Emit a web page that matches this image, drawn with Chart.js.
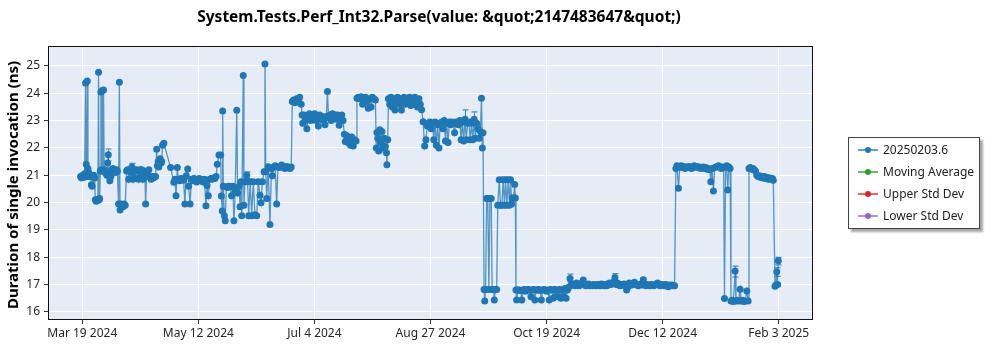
<!DOCTYPE html>
<html>
<head>
<meta charset="utf-8">
<script src="https://cdn.jsdelivr.net/npm/chart.js@4.4.1/dist/chart.umd.min.js"></script>
<style>
  html, body { margin: 0; padding: 0; background: #fff; }
  #wrap { position: relative; width: 1000px; height: 350px; }
  #legend {
    position: absolute; left: 848px; top: 137px; width: 130px; height: 90px;
    border: 1px solid #444; background: #fff;
    box-shadow: 3px 3px 2px rgba(0, 0, 0, 0.35);
    font: 12px "Noto Sans", sans-serif; color: #222;
  }
  .item { position: absolute; left: 0; height: 22px; line-height: 22px; white-space: nowrap; }
  .item .swatch { position: absolute; left: 9px; top: 10px; width: 20px; height: 2px; }
  .item .dot { position: absolute; left: 16px; top: 8px; width: 6px; height: 6px; border-radius: 50%; }
  .item .txt { position: absolute; left: 34px; top: 0; }
</style>
</head>
<body>
<div id="wrap">
  <canvas id="chart" width="1000" height="350"></canvas>
  <div id="legend"></div>
</div>
<script>
// run day = days since Mar 19 2024, duration in ns
const runDay = [
  -0.8, -0.3, 0.2, 0.6, 1.1, 1.5, 1.8, 2.1, 2.3, 2.6,
  3.0, 3.4, 3.8, 4.2, 4.5, 4.9, 5.3, 5.7, 6.0, 6.4,
  6.8, 7.2, 7.5, 7.8, 8.0, 8.3, 8.6, 8.9, 9.2, 9.5,
  9.8, 10.1, 10.5, 10.9, 11.3, 11.7, 12.0, 12.4, 12.7, 13.2,
  13.7, 14.2, 14.7, 15.2, 15.7, 16.2, 16.7, 17.1, 17.4, 17.8,
  18.3, 18.8, 19.3, 19.8, 20.4, 20.9, 21.4, 21.9, 22.4, 22.9,
  23.4, 23.9, 24.4, 24.9, 25.4, 25.9, 26.4, 26.9, 27.4, 27.9,
  28.4, 28.9, 29.2, 29.6, 30.1, 30.7, 31.2, 31.7, 32.3, 32.8,
  33.3, 33.8, 34.3, 34.6, 35.0, 35.3, 35.9, 36.3, 36.6, 37.0,
  37.6, 40.7, 42.2, 42.7, 43.2, 43.8, 44.3, 44.9, 45.5, 46.1,
  46.7, 47.3, 47.9, 48.6, 49.0, 49.7, 50.3, 50.9, 51.5, 52.1,
  52.7, 53.3, 53.9, 54.5, 55.1, 55.7, 56.3, 57.0, 57.5, 58.1,
  58.7, 59.3, 59.9, 60.5, 61.1, 61.7, 62.2, 63.0, 63.8, 64.1,
  64.5, 64.7, 65.0, 65.5, 65.9, 66.4, 67.0, 67.6, 68.2, 68.8,
  69.4, 69.9, 70.5, 71.2, 71.6, 72.3, 72.7, 73.1, 73.5, 74.2,
  74.5, 75.0, 75.8, 76.2, 76.7, 77.4, 78.1, 78.8, 79.6, 80.4,
  81.1, 81.9, 82.4, 83.0, 83.8, 84.2, 84.6, 85.0, 85.7, 86.5,
  87.2, 87.6, 88.2, 88.9, 89.6, 90.2, 90.9, 91.9, 92.6, 93.4,
  94.1, 94.9, 95.7, 96.3, 96.8, 97.4, 98.1, 98.8, 99.5, 100.2,
  100.9, 101.3, 101.6, 102.2, 102.8, 103.5, 104.1, 104.7, 105.3, 105.9,
  106.5, 107.1, 107.7, 108.3, 108.8, 109.4, 110.0, 110.6, 111.2, 111.9,
  112.5, 113.0, 113.5, 114.1, 114.7, 115.3, 115.9, 116.5, 117.1, 117.7,
  118.4, 119.0, 119.6, 120.2, 120.8, 121.2, 121.8, 122.4, 123.1, 123.6,
  124.2, 124.9, 125.5, 126.2, 126.6, 127.2, 127.9, 128.5, 129.2, 129.9,
  130.5, 131.1, 131.8, 132.4, 133.1, 133.7, 134.4, 135.1, 135.5, 135.8,
  136.2, 136.6, 137.1, 137.6, 138.1, 138.6, 139.2, 139.7, 140.2, 140.4,
  140.8, 141.1, 141.7, 142.3, 142.9, 143.5, 144.1, 144.7, 145.3, 145.9,
  146.5, 147.1, 147.7, 148.3, 148.9, 149.6, 150.2, 150.8, 151.4, 152.0,
  152.6, 153.3, 153.9, 154.5, 155.2, 155.8, 156.4, 157.1, 157.8, 158.4,
  159.0, 159.6, 160.2, 160.8, 161.4, 162.0, 162.6, 163.2, 163.8, 164.4,
  165.0, 165.6, 166.2, 166.8, 167.4, 168.0, 168.6, 169.2, 169.8, 170.4,
  171.0, 171.6, 172.2, 172.8, 173.4, 174.0, 174.6, 175.2, 175.8, 176.4,
  177.0, 177.6, 178.2, 178.8, 179.4, 180.0, 180.6, 181.2, 181.8, 182.4,
  183.0, 183.5, 184.0, 184.4, 184.7, 185.2, 185.5, 185.9, 186.4, 186.9,
  187.4, 187.9, 188.5, 188.9, 189.5, 189.9, 190.4, 191.0, 191.5, 192.2,
  192.8, 193.4, 194.0, 194.6, 195.1, 195.7, 196.3, 196.9, 197.4, 197.9,
  198.3, 198.8, 199.3, 199.6, 199.9, 200.2, 200.8, 201.4, 202.0, 202.6,
  203.2, 203.8, 204.4, 205.0, 205.6, 206.2, 206.8, 207.4, 208.0, 208.6,
  209.2, 209.8, 210.4, 211.0, 211.6, 212.2, 212.8, 213.4, 214.0, 214.6,
  215.2, 215.8, 216.4, 217.0, 217.6, 218.2, 218.8, 219.4, 220.0, 220.6,
  221.2, 221.8, 222.4, 223.0, 223.6, 224.2, 224.8, 225.4, 226.0, 226.6,
  227.2, 227.8, 228.4, 229.0, 229.6, 230.2, 230.9, 231.5, 232.1, 232.7,
  233.3, 233.9, 234.5, 235.1, 235.7, 236.3, 236.9, 237.5, 238.1, 238.7,
  239.3, 239.9, 240.5, 241.1, 241.7, 242.3, 242.9, 243.5, 244.1, 244.7,
  245.5, 246.1, 246.7, 247.3, 247.9, 248.5, 249.1, 249.7, 250.3, 250.9,
  251.5, 252.1, 252.7, 253.3, 253.9, 254.5, 255.1, 255.7, 256.3, 256.9,
  257.5, 258.1, 258.6, 259.2, 259.8, 260.4, 261.0, 261.6, 262.2, 262.8,
  263.4, 264.0, 264.6, 265.2, 265.8, 266.4, 267.0, 267.6, 268.2, 268.8,
  269.4, 270.0, 270.6, 271.2, 271.8, 272.4, 273.0, 273.6, 274.1, 274.8,
  275.4, 276.0, 276.6, 277.2, 277.8, 278.4, 279.0, 279.6, 280.2, 280.8,
  281.4, 282.0, 282.6, 283.2, 283.8, 284.4, 285.0, 285.6, 286.2, 286.8,
  287.4, 288.0, 288.6, 289.2, 289.7, 290.3, 290.9, 291.5, 292.1, 292.7,
  293.3, 293.9, 294.5, 295.1, 295.6, 296.0, 296.5, 297.0, 297.5, 298.0,
  298.6, 299.0, 299.5, 300.1, 300.9, 301.3, 301.9, 302.5, 303.2, 303.7,
  304.3, 304.9, 305.5, 306.3, 306.9, 307.3, 307.9, 308.5, 309.1, 309.7,
  310.3, 310.9, 311.5, 312.1, 312.7, 313.3, 313.9, 314.5, 315.1, 315.7,
  316.3, 316.9, 317.5, 318.1, 318.5, 319.3, 319.7, 320.1, 320.5, 320.8
];

const durationNs = [
  20.95, 20.9, 21.0, 20.92, 21.05, 24.38, 21.4, 20.95, 24.45, 21.25,
  21.1, 20.95, 21.0, 20.65, 20.6, 20.95, 21.0, 20.9, 20.1, 20.05,
  20.1, 20.08, 24.77, 20.1, 20.15, 21.15, 24.05, 21.2, 24.1, 21.15,
  24.12, 21.2, 21.1, 21.15, 21.0, 21.45, 21.75, 21.0, 20.8, 20.95,
  21.2, 21.25, 21.15, 21.1, 21.2, 21.15, 19.95, 24.4, 19.73, 19.95,
  19.9, 19.85, 19.95, 19.9, 21.15, 21.2, 20.85, 21.2, 21.1, 21.3,
  20.85, 21.15, 20.9, 21.2, 21.15, 20.85, 21.2, 20.95, 21.2, 20.85,
  21.15, 20.95, 19.95, 20.95, 21.0, 21.2, 20.95, 20.85, 20.95, 20.9,
  20.95, 20.95, 21.95, 21.35, 21.5, 21.3, 21.6, 21.45, 21.5, 22.1,
  22.17, 21.28, 20.74, 20.85, 20.25, 21.28, 20.85, 20.8, 20.88, 20.85,
  20.82, 19.95, 20.98, 21.23, 20.6, 19.95, 20.85, 20.8, 20.88, 20.85,
  20.75, 20.85, 20.88, 20.8, 20.85, 20.75, 20.85, 19.88, 20.62, 20.25,
  20.85, 20.88, 20.85, 20.9, 20.88, 20.95, 21.4, 21.74, 21.74, 20.24,
  19.69, 23.35, 20.6, 19.52, 19.33, 20.58, 20.55, 20.6, 20.58, 20.25,
  20.6, 19.33, 20.45, 23.38, 20.35, 20.6, 19.85, 20.76, 19.52, 24.65,
  19.9, 20.76, 21.0, 20.76, 19.52, 20.76, 19.52, 20.76, 19.55, 19.52,
  20.76, 20.27, 19.99, 20.76, 21.13, 25.07, 21.13, 20.15, 21.31, 19.2,
  21.25, 20.98, 21.3, 21.35, 19.95, 21.3, 21.28, 21.37, 21.3, 21.25,
  21.32, 21.3, 21.25, 21.3, 23.7, 23.75, 23.65, 23.8, 23.75, 23.85,
  23.6, 23.2, 22.9, 23.2, 23.0, 22.7, 23.1, 23.25, 23.0, 23.2,
  23.1, 23.25, 23.0, 23.15, 22.8, 23.2, 23.05, 23.15, 23.0, 22.85,
  23.15, 24.06, 23.1, 23.2, 23.0, 23.25, 23.1, 23.2, 23.05, 23.2,
  22.83, 23.1, 23.2, 23.0, 22.5, 22.23, 22.45, 22.2, 22.3, 22.1,
  22.4, 22.07, 22.3, 22.25, 23.82, 23.85, 23.8, 23.87, 23.6, 23.75,
  23.85, 23.7, 23.45, 23.8, 23.5, 23.85, 23.8, 23.75, 22.0, 22.56,
  22.35, 21.89, 22.66, 22.2, 22.6, 22.0, 22.35, 22.05, 21.82, 21.38,
  22.3, 23.8, 23.6, 23.85, 23.5, 23.8, 23.39, 23.7, 23.85, 23.6,
  23.8, 23.39, 23.75, 23.85, 23.6, 23.8, 23.7, 23.85, 23.55, 23.8,
  23.6, 23.85, 23.75, 23.5, 23.8, 23.6, 23.4, 22.96, 22.07, 22.3,
  22.8, 22.9, 22.95, 22.7, 22.9, 22.3, 22.95, 22.1, 22.85, 22.0,
  22.9, 22.95, 22.7, 23.0, 22.25, 22.9, 22.2, 22.95, 22.85, 22.95,
  22.9, 22.55, 22.95, 22.9, 22.85, 23.0, 22.3, 22.95, 22.25, 23.05,
  22.3, 22.9, 22.95, 22.3, 22.9, 22.3, 23.05, 22.35, 22.9, 22.7,
  22.35, 22.6, 23.82, 22.0, 22.55, 16.82, 16.4, 16.82, 20.15, 20.15,
  16.82, 20.15, 20.15, 16.82, 16.82, 16.43, 16.82, 16.82, 19.9, 20.83,
  19.9, 19.9, 20.83, 19.9, 20.83, 19.9, 20.83, 19.9, 20.83, 19.95,
  20.17, 20.17, 20.66, 20.17, 16.8, 16.43, 16.8, 16.8, 16.78, 16.43,
  16.8, 16.82, 16.75, 16.8, 16.82, 16.8, 16.55, 16.8, 16.82, 16.43,
  16.8, 16.8, 16.82, 16.78, 16.43, 16.8, 16.82, 16.8, 16.75, 16.8,
  16.43, 16.82, 16.8, 16.5, 16.82, 16.55, 16.8, 16.55, 16.82, 16.5,
  16.8, 16.55, 16.85, 16.5, 16.8, 16.9, 17.22, 17.0, 16.98, 17.02,
  16.95, 17.05, 16.98, 16.95, 17.0, 17.05, 17.16, 17.0, 16.95, 16.98,
  17.02, 16.95, 16.98, 16.95, 17.0, 16.98, 16.95, 17.0, 16.98, 16.95,
  17.02, 16.98, 16.95, 17.0, 16.95, 16.98, 17.05, 17.0, 17.02, 17.08,
  17.26, 17.0, 17.05, 16.98, 16.95, 17.0, 16.98, 17.02, 16.95, 16.8,
  16.92, 17.05, 17.02, 16.98, 17.0, 17.08, 17.02, 16.98, 16.95, 17.0,
  17.02, 16.98, 17.17, 17.0, 16.95, 17.0, 16.98, 16.95, 17.0, 16.98,
  16.95, 17.0, 17.02, 17.05, 16.98, 16.95, 17.0, 16.98, 16.95, 17.0,
  16.98, 16.92, 16.98, 16.95, 16.98, 16.95, 16.95, 21.25, 21.35, 20.52,
  21.3, 21.35, 21.28, 21.32, 21.25, 21.3, 21.28, 21.32, 21.3, 21.25,
  21.28, 21.35, 21.3, 21.32, 21.28, 21.3, 21.25, 21.28, 21.3, 21.25,
  21.28, 21.22, 21.25, 21.2, 20.76, 21.25, 20.42, 21.28, 21.3, 21.32,
  21.35, 21.3, 21.25, 21.3, 21.28, 16.49, 21.3, 21.35, 20.46, 21.3,
  21.25, 16.4, 16.42, 16.38, 17.49, 16.4, 16.42, 16.4, 16.83, 16.4,
  16.42, 16.38, 16.4, 16.76, 16.4, 21.25, 21.28, 21.22, 21.25, 21.2,
  21.15, 21.0, 20.95, 20.98, 20.92, 20.95, 20.9, 20.95, 20.88, 20.92,
  20.85, 20.9, 20.85, 20.88, 20.82, 16.94, 16.98, 17.47, 17.0, 17.87
];

// spread bars on a few runs: [day, low, high]
const spreadBars = [
  [12.0, 21.52, 21.96], [22.9, 21.18, 21.43], [75.8, 20.88, 21.12],
  [176.4, 22.85, 23.39], [180.6, 22.85, 23.32], [224.8, 17.1, 17.38],
  [245.5, 17.12, 17.4], [258.6, 17.08, 17.25], [300.9, 17.27, 17.67],
  [320.1, 17.3, 17.62], [320.8, 17.72, 17.99]
];

const tickDays = [0, 53.5, 107, 160.5, 214, 267.5, 321];
const tickLabels = ['Mar 19 2024', 'May 12 2024', 'Jul 4 2024', 'Aug 27 2024', 'Oct 19 2024', 'Dec 12 2024', 'Feb 3 2025'];
const yTicks = [16, 17, 18, 19, 20, 21, 22, 23, 24, 25];

const seriesNames = ['20250203.6', 'Moving Average', 'Upper Std Dev', 'Lower Std Dev'];
const seriesColors = ['#1f77b4', '#2ca02c', '#d62728', '#9467bd'];

const chartTitle = 'System.Tests.Perf_Int32.Parse(value: &quot;2147483647&quot;)';
const yTitle = 'Duration of single invocation (ns)';

const FONT = '"Noto Sans", sans-serif';

const framePlugin = {
  id: 'framePlugin',
  beforeDraw(chart) {
    const { ctx, chartArea: a } = chart;
    ctx.save();
    ctx.fillStyle = '#e5ecf6';
    ctx.fillRect(a.left, a.top, a.right - a.left, a.bottom - a.top);
    ctx.restore();
  },
  afterDatasetsDraw(chart) {
    const { ctx } = chart;
    const x = chart.scales.x, y = chart.scales.y;
    ctx.save();
    ctx.strokeStyle = 'rgba(31,119,180,0.8)';
    ctx.lineWidth = 1.2;
    spreadBars.forEach(([d, lo, hi]) => {
      const px = Math.round(x.getPixelForValue(d)) + 0.5;
      const y0 = y.getPixelForValue(lo), y1 = y.getPixelForValue(hi);
      ctx.beginPath();
      ctx.moveTo(px, y0); ctx.lineTo(px, y1);
      ctx.moveTo(px - 3, y0); ctx.lineTo(px + 3, y0);
      ctx.moveTo(px - 3, y1); ctx.lineTo(px + 3, y1);
      ctx.stroke();
    });
    ctx.restore();
  },
  afterDraw(chart) {
    const { ctx, chartArea: a } = chart;
    ctx.save();
    ctx.strokeStyle = '#111';
    ctx.lineWidth = 1;
    ctx.strokeRect(a.left + 0.5, a.top + 0.5, a.right - a.left - 1, a.bottom - a.top - 1);

    ctx.fillStyle = '#000';
    ctx.font = 'bold 15.5px ' + FONT;
    ctx.textAlign = 'center';
    ctx.textBaseline = 'middle';
    ctx.fillText(chartTitle, 439, 18);

    ctx.translate(14, 185);
    ctx.rotate(-Math.PI / 2);
    ctx.font = 'bold 15px ' + FONT;
    ctx.fillText(yTitle, 0, 0);
    ctx.restore();
  }
};

const datasets = seriesNames.map((name, i) => ({
  label: name,
  data: i === 0 ? runDay.map((d, k) => ({ x: d, y: durationNs[k] })) : [],
  borderColor: i === 0 ? 'rgba(31,119,180,0.75)' : seriesColors[i],
  backgroundColor: seriesColors[i],
  pointBackgroundColor: seriesColors[i],
  pointBorderWidth: 0,
  pointRadius: 3.5,
  pointHoverRadius: 3.5,
  borderWidth: 1.3,
  tension: 0
}));

const chart = new Chart(document.getElementById('chart'), {
  type: 'line',
  data: { datasets },
  options: {
    responsive: false,
    animation: false,
    devicePixelRatio: 1,
    layout: { padding: { top: 46, right: 187, left: 0, bottom: 0 } },
    plugins: { legend: { display: false }, tooltip: { enabled: false } },
    scales: {
      x: {
        type: 'linear',
        min: -15.8,
        max: 336.8,
        afterBuildTicks: (s) => { s.ticks = tickDays.map((v) => ({ value: v })); },
        afterFit: (s) => { s.height = 30; },
        ticks: {
          autoSkip: false,
          maxRotation: 0,
          padding: 2,
          color: '#262626',
          font: { family: FONT, size: 12 },
          callback: (v, i) => tickLabels[i]
        },
        grid: { color: '#ffffff', lineWidth: 1, tickColor: '#333', tickLength: 4 },
        border: { display: false }
      },
      y: {
        type: 'linear',
        min: 15.7,
        max: 25.73,
        afterBuildTicks: (s) => { s.ticks = yTicks.map((v) => ({ value: v })); },
        afterFit: (s) => { s.width = 48; },
        ticks: {
          padding: 4,
          color: '#262626',
          font: { family: FONT, size: 12 }
        },
        grid: { color: '#ffffff', lineWidth: 1, tickColor: '#333', tickLength: 4 },
        border: { display: false }
      }
    }
  },
  plugins: [framePlugin]
});

// legend box built from the dataset list
const legend = document.getElementById('legend');
chart.data.datasets.forEach((ds, i) => {
  const row = document.createElement('div');
  row.className = 'item';
  row.style.top = (1 + i * 22) + 'px';
  row.innerHTML = '<span class="swatch"></span><span class="dot"></span><span class="txt"></span>';
  row.querySelector('.swatch').style.background = seriesColors[i];
  row.querySelector('.swatch').style.opacity = '0.7';
  row.querySelector('.dot').style.background = seriesColors[i];
  row.querySelector('.txt').textContent = ds.label;
  legend.appendChild(row);
});
</script>
</body>
</html>
